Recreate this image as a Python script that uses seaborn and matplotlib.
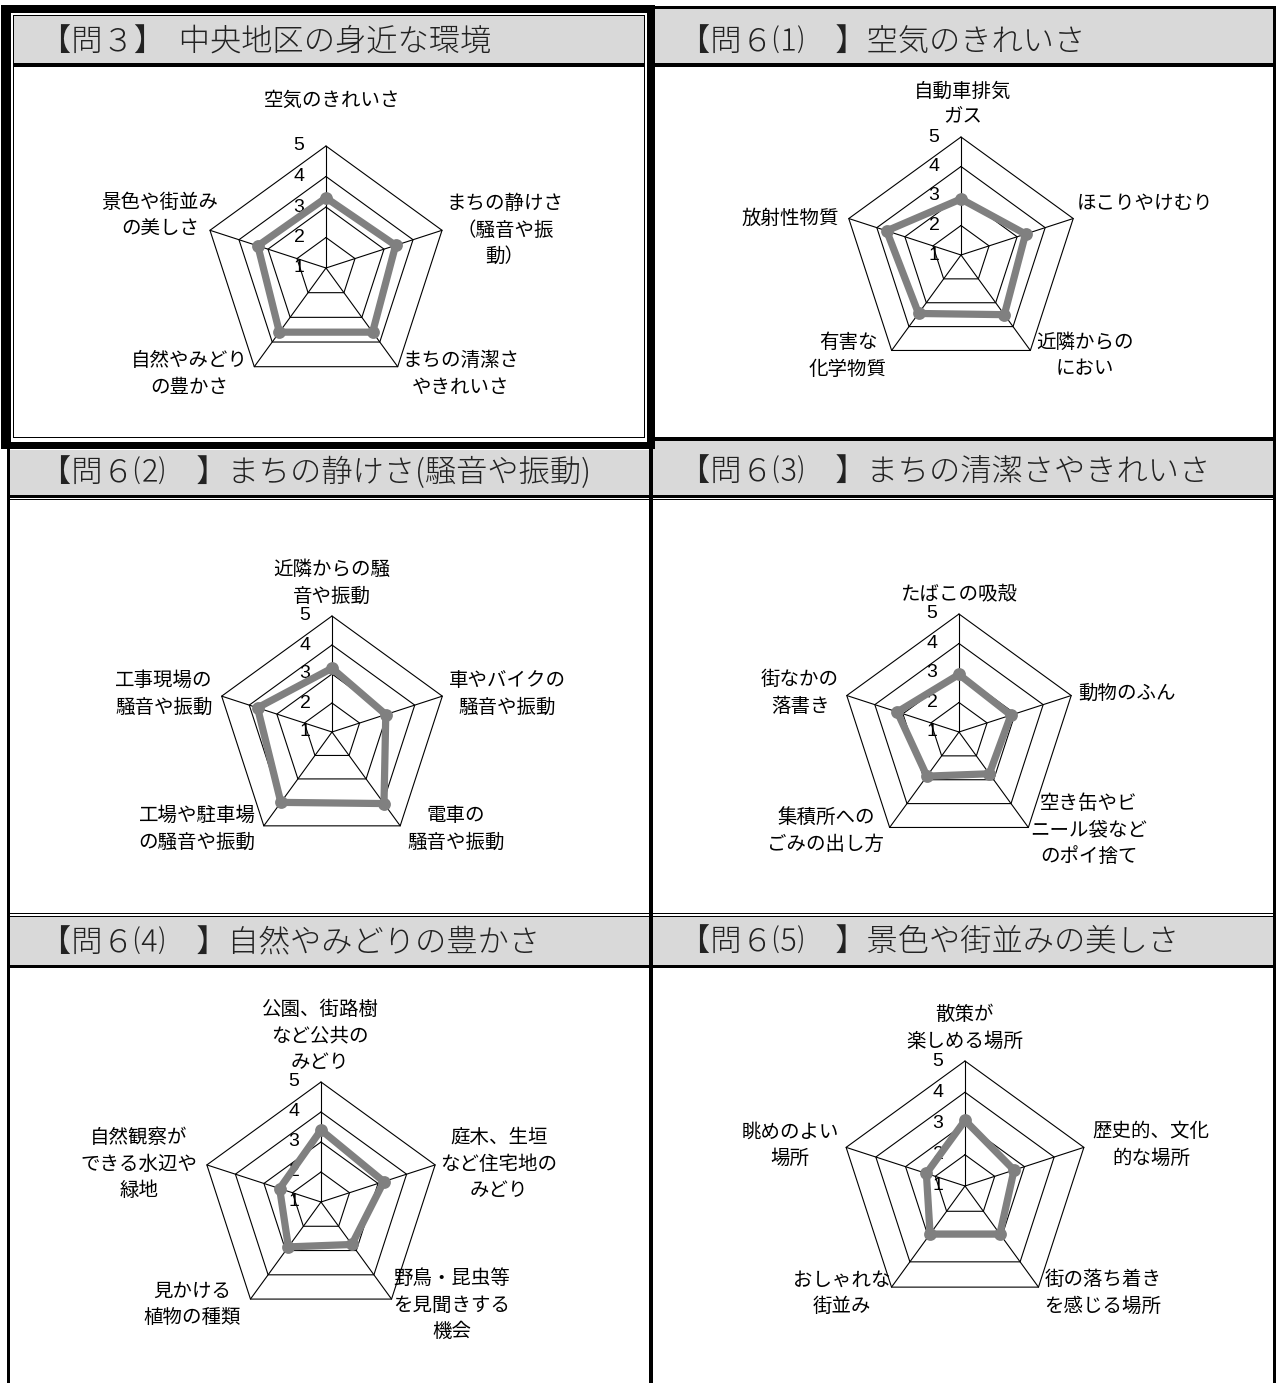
"""Six radar charts of the Chuo district environment survey, laid out as a table."""

import matplotlib
import matplotlib.pyplot as plt
import numpy as np
import seaborn as sns
from matplotlib.patches import Rectangle

matplotlib.use("Agg")

W, H = 1276, 1383

# ---- data (clockwise from the top spoke) ----
titles = [
    "【問３】  中央地区の身近な環境",
    "【問６⑴　】空気のきれいさ",
    "【問６⑵　】まちの静けさ(騒音や振動)",
    "【問６⑶　】まちの清潔さやきれいさ",
    "【問６⑷　】自然やみどりの豊かさ",
    "【問６⑸　】景色や街並みの美しさ",
]

overall_labels = ["空気のきれいさ", "まちの静けさ\n（騒音や振\n動）", "まちの清潔さ\nやきれいさ",
                  "自然やみどり\nの豊かさ", "景色や街並み\nの美しさ"]
overall_values = [3.3, 3.4, 3.6, 3.6, 3.35]

air_labels = ["自動車排気\nガス", "ほこりやけむり", "近隣からの\nにおい", "有害な\n化学物質", "放射性物質"]
air_values = [2.9, 3.3, 3.5, 3.45, 3.65]

noise_labels = ["近隣からの騒\n音や振動", "車やバイクの\n騒音や振動", "電車の\n騒音や振動",
                "工場や駐車場\nの騒音や振動", "工事現場の\n騒音や振動"]
noise_values = [3.2, 2.95, 4.05, 4.0, 3.7]

clean_labels = ["たばこの吸殻", "動物のふん", "空き缶やビ\nニール袋など\nのポイ捨て",
                "集積所への\nごみの出し方", "街なかの\n落書き"]
clean_values = [2.95, 2.85, 2.75, 2.85, 3.2]

green_labels = ["公園、街路樹\nなど公共の\nみどり", "庭木、生垣\nなど住宅地の\nみどり",
                "野鳥・昆虫等\nを見聞きする\n機会", "見かける\n植物の種類", "自然観察が\nできる水辺や\n緑地"]
green_values = [3.4, 3.2, 2.75, 2.85, 2.45]

scenery_labels = ["散策が\n楽しめる場所", "歴史的、文化\n的な場所", "街の落ち着き\nを感じる場所",
                  "おしゃれな\n街並み", "眺めのよい\n場所"]
scenery_values = [3.1, 2.65, 2.9, 2.9, 2.3]

scale_ticks = [1, 2, 3, 4, 5]

# ---- layout (pixels) ----
PANELS = [
    dict(center=(326, 268), radius=122, title_xy=(40, 43),
         offsets=[(6, -168), (179, -38), (135, 106), (-137, 106), (-166, -52)]),
    dict(center=(961, 255), radius=118, title_xy=(679, 43),
         offsets=[(2, -151), (184, -52), (124, 101), (-113, 101), (-171, -37)]),
    dict(center=(332, 732), radius=116, title_xy=(40, 473),
         offsets=[(0, -149), (175, -38), (124, 97), (-135, 97), (-168, -38)]),
    dict(center=(959, 732), radius=118, title_xy=(679, 473),
         offsets=[(0, -137), (168, -39), (130, 98), (-133, 99), (-159, -39)]),
    dict(center=(321, 1202), radius=120, title_xy=(40, 943),
         offsets=[(-1, -166), (178, -38), (131, 103), (-129, 102), (-182, -38)]),
    dict(center=(965, 1186), radius=125, title_xy=(679, 943),
         offsets=[(0, -158), (186, -41), (138, 107), (-123, 107), (-175, -41)]),
]

GRAY_HEADER = "#d9d9d9"
SERIES = "#808080"
CJK = ["Noto Sans CJK JP", "DejaVu Sans"]
DIGITS = ["Liberation Sans Narrow", "Liberation Sans", "DejaVu Sans"]


def block(ax, x0, y0, x1, y1, color="black"):
    ax.add_patch(Rectangle((x0, y0), x1 - x0, y1 - y0, facecolor=color, edgecolor="none", lw=0))


def draw_table(ax):
    # header bands
    block(ax, 14, 16, 644, 63, GRAY_HEADER)
    block(ax, 655, 9, 1273, 63, GRAY_HEADER)
    block(ax, 10, 450, 649, 495, GRAY_HEADER)
    block(ax, 653, 441, 1273, 495, GRAY_HEADER)
    block(ax, 10, 917, 649, 965, GRAY_HEADER)
    block(ax, 653, 917, 1273, 965, GRAY_HEADER)

    # right column top + header rules
    block(ax, 655, 6, 1276, 9)
    block(ax, 655, 63, 1276, 67)
    block(ax, 13, 63, 645, 67)

    # thick frame round the first panel (with thin inner line)
    block(ax, 1, 5, 655, 13)
    block(ax, 1, 5, 11, 449)
    block(ax, 647, 5, 655, 449)
    block(ax, 1, 442, 655, 449)
    block(ax, 13, 15, 645, 16)
    block(ax, 13, 15, 14, 438)
    block(ax, 644, 15, 645, 438)
    block(ax, 13, 437, 645, 438)

    # outer borders and column divider
    block(ax, 1273, 6, 1276, H)
    block(ax, 7, 449, 10, H)
    block(ax, 649, 441, 653, H)

    # row rules
    block(ax, 655, 437, 1276, 441)
    block(ax, 7, 495, 1276, 498)
    block(ax, 7, 499, 1276, 500)
    block(ax, 7, 913, 1276, 914)
    block(ax, 7, 916, 1276, 917)
    block(ax, 7, 965, 1276, 968)


def draw_radar(fig, ax_bg, panel, title, labels, values):
    cx, cy = panel["center"]
    rad = panel["radius"]
    lim = 1.05
    ax = fig.add_axes([(cx - rad * lim) / W, 1 - (cy + rad * lim) / H,
                       2 * rad * lim / W, 2 * rad * lim / H])
    ax.set_xlim(-lim, lim)
    ax.set_ylim(-lim, lim)
    ax.axis("off")

    n = len(labels)
    theta = np.pi / 2 - 2 * np.pi * np.arange(n) / n
    ux, uy = np.cos(theta), np.sin(theta)

    # rings at 2..5 and spokes
    for v in scale_ticks[1:]:
        r = (v - 1) / 4
        ax.plot(np.append(ux, ux[0]) * r, np.append(uy, uy[0]) * r, color="black", lw=0.8, zorder=1)
    for k in range(n):
        ax.plot([0, ux[k]], [0, uy[k]], color="black", lw=0.8, zorder=1)

    # scale numbers next to the top spoke
    for v in scale_ticks:
        ax.text(-27 / rad, (v - 1) / 4, str(v), ha="center", va="center",
                fontsize=14, family=DIGITS, color="black", zorder=2)

    r = (np.asarray(values) - 1) / 4
    xs = np.append(ux * r, ux[0] * r[0])
    ys = np.append(uy * r, uy[0] * r[0])
    sns.lineplot(x=xs, y=ys, sort=False, estimator=None, color=SERIES, lw=5.2, ax=ax, zorder=3)
    sns.scatterplot(x=xs[:-1], y=ys[:-1], s=85, color=SERIES, edgecolor=SERIES, linewidth=0,
                    ax=ax, zorder=4, legend=False)

    # category labels
    for lab, (dx, dy) in zip(labels, panel["offsets"]):
        ax_bg.text(cx + dx, cy + dy, lab, ha="center", va="center", multialignment="center",
                   fontsize=14, family=CJK, linespacing=1.33, color="black")

    tx, ty = panel["title_xy"]
    ax_bg.text(tx, ty, title, ha="left", va="center", fontsize=22.5, family=CJK,
               fontweight="light", color="#222222")


def main():
    sns.set_style("white")
    plt.rcParams["font.family"] = CJK

    fig = plt.figure(figsize=(W / 100, H / 100), dpi=100)
    fig.patch.set_facecolor("white")
    ax_bg = fig.add_axes([0, 0, 1, 1])
    ax_bg.set_xlim(0, W)
    ax_bg.set_ylim(H, 0)
    ax_bg.axis("off")
    draw_table(ax_bg)

    series = [
        (overall_labels, overall_values),
        (air_labels, air_values),
        (noise_labels, noise_values),
        (clean_labels, clean_values),
        (green_labels, green_values),
        (scenery_labels, scenery_values),
    ]
    for panel, title, (labels, values) in zip(PANELS, titles, series):
        draw_radar(fig, ax_bg, panel, title, labels, values)

    fig.savefig("out.png", dpi=100)
    plt.close(fig)


if __name__ == "__main__":
    main()
